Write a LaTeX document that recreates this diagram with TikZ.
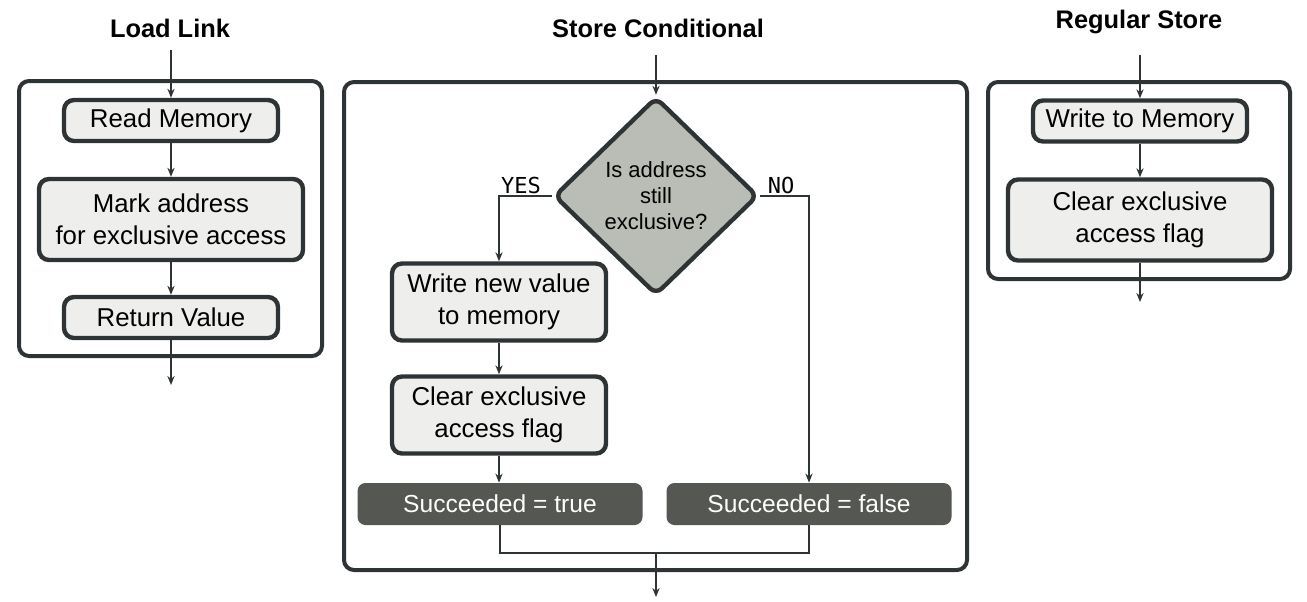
\documentclass[tikz,border=0pt]{standalone}
\usepackage{fontspec}
\setmainfont{Liberation Sans}
\newfontfamily\flagfont{DejaVu Sans Mono}
\usetikzlibrary{shapes.geometric,arrows.meta,positioning}
\definecolor{lkInk}{HTML}{2E3436}
\definecolor{lkFill}{HTML}{EEEEEC}
\definecolor{lkTest}{HTML}{BABDB6}
\definecolor{lkDone}{HTML}{555753}

\begin{document}
\begin{tikzpicture}[x=0.5pt, y=-0.5pt, >={Stealth[length=4.5pt,width=3.6pt]},
  title/.style={font=\fontsize{12.7}{15}\selectfont\bfseries},
  frame/.style={draw=lkInk, line width=2pt, rounded corners=5pt, inner sep=0pt},
  stepbox/.style={draw=lkInk, line width=2.2pt, fill=lkFill, rounded corners=5pt, align=center,
    inner sep=0pt, font=\fontsize{12.9}{16}\selectfont, minimum width=107pt, minimum height=20.5pt},
  test/.style={diamond, draw=lkInk, line width=2.2pt, fill=lkTest, rounded corners=4pt, align=center,
    inner sep=0pt, font=\fontsize{11}{13}\selectfont, minimum width=102pt, minimum height=99pt},
  result/.style={fill=lkDone, text=white, rounded corners=4pt, inner sep=0pt,
    font=\fontsize{12.3}{15}\selectfont, minimum width=142.5pt, minimum height=21pt},
  flag/.style={font=\flagfont\fontsize{11}{13}\selectfont},
  flow/.style={->, draw=lkInk, line width=1.1pt}]
  \useasboundingbox (0,0) rectangle (1307,601);

  % load link
  \node[title] (ll) at (170,28) {Load Link};
  \node[frame, minimum width=151.5pt, minimum height=137.5pt] (llbox) at (170.5,218.5) {};
  \coordinate (llin) at (171,50);
  \coordinate (llout) at (171,385);
  \node[stepbox] (read) at (171,120.5) {Read Memory};
  \node[stepbox, minimum width=132pt, minimum height=40.5pt] (mark) at (171,219.5) {Mark address\\for exclusive access};
  \node[stepbox] (ret) at (171,317.5) {Return Value};
  \draw[flow] (llin) -- (read);
  \draw[flow] (read) -- (mark);
  \draw[flow] (mark) -- (ret);
  \draw[flow] (ret) -- (llout);

  % store conditional
  \node[title] (sc) at (658,28) {Store Conditional};
  \node[frame, minimum width=311.5pt, minimum height=244pt] (scbox) at (655.5,326) {};
  \coordinate (scin) at (656,55);
  \coordinate (join) at (656,553);
  \coordinate (scout) at (656,597);
  \node[test] (check) at (656,196) {Is address\\still\\exclusive?};
  \node[stepbox, minimum height=38.5pt] (write) at (499,302) {Write new value\\to memory};
  \node[stepbox, minimum height=38.5pt] (clr) at (499,415) {Clear exclusive\\access flag};
  \node[result] (ok) at (500,504) {Succeeded = true};
  \node[result] (fail) at (809,504) {Succeeded = false};
  \node[flag] (yes) at (521,185) {YES};
  \node[flag] (no) at (781,185) {NO};
  \draw[flow] (scin) -- (check);
  \draw[flow] (check.west) -| (write.north);
  \draw[flow] (check.east) -| (fail.north);
  \draw[flow] (write) -- (clr);
  \draw[flow] (clr.south) -- (clr.south |- ok.north);
  \draw[lkInk, line width=1.1pt] (ok.south) |- (join) -| (fail.south);
  \draw[flow] (join) -- (scout);

  % regular store
  \node[title] (rs) at (1139,22) {Regular Store};
  \node[frame, minimum width=151pt, minimum height=98.5pt] (rsbox) at (1139,180.5) {};
  \coordinate (rsin) at (1140,55);
  \coordinate (rsout) at (1140,302);
  \node[stepbox] (wmem) at (1140,121) {Write to Memory};
  \node[stepbox, minimum width=132pt, minimum height=40.5pt] (rclr) at (1140,220) {Clear exclusive\\access flag};
  \draw[flow] (rsin) -- (wmem);
  \draw[flow] (wmem) -- (rclr);
  \draw[flow] (rclr) -- (rsout);
\end{tikzpicture}
\end{document}
